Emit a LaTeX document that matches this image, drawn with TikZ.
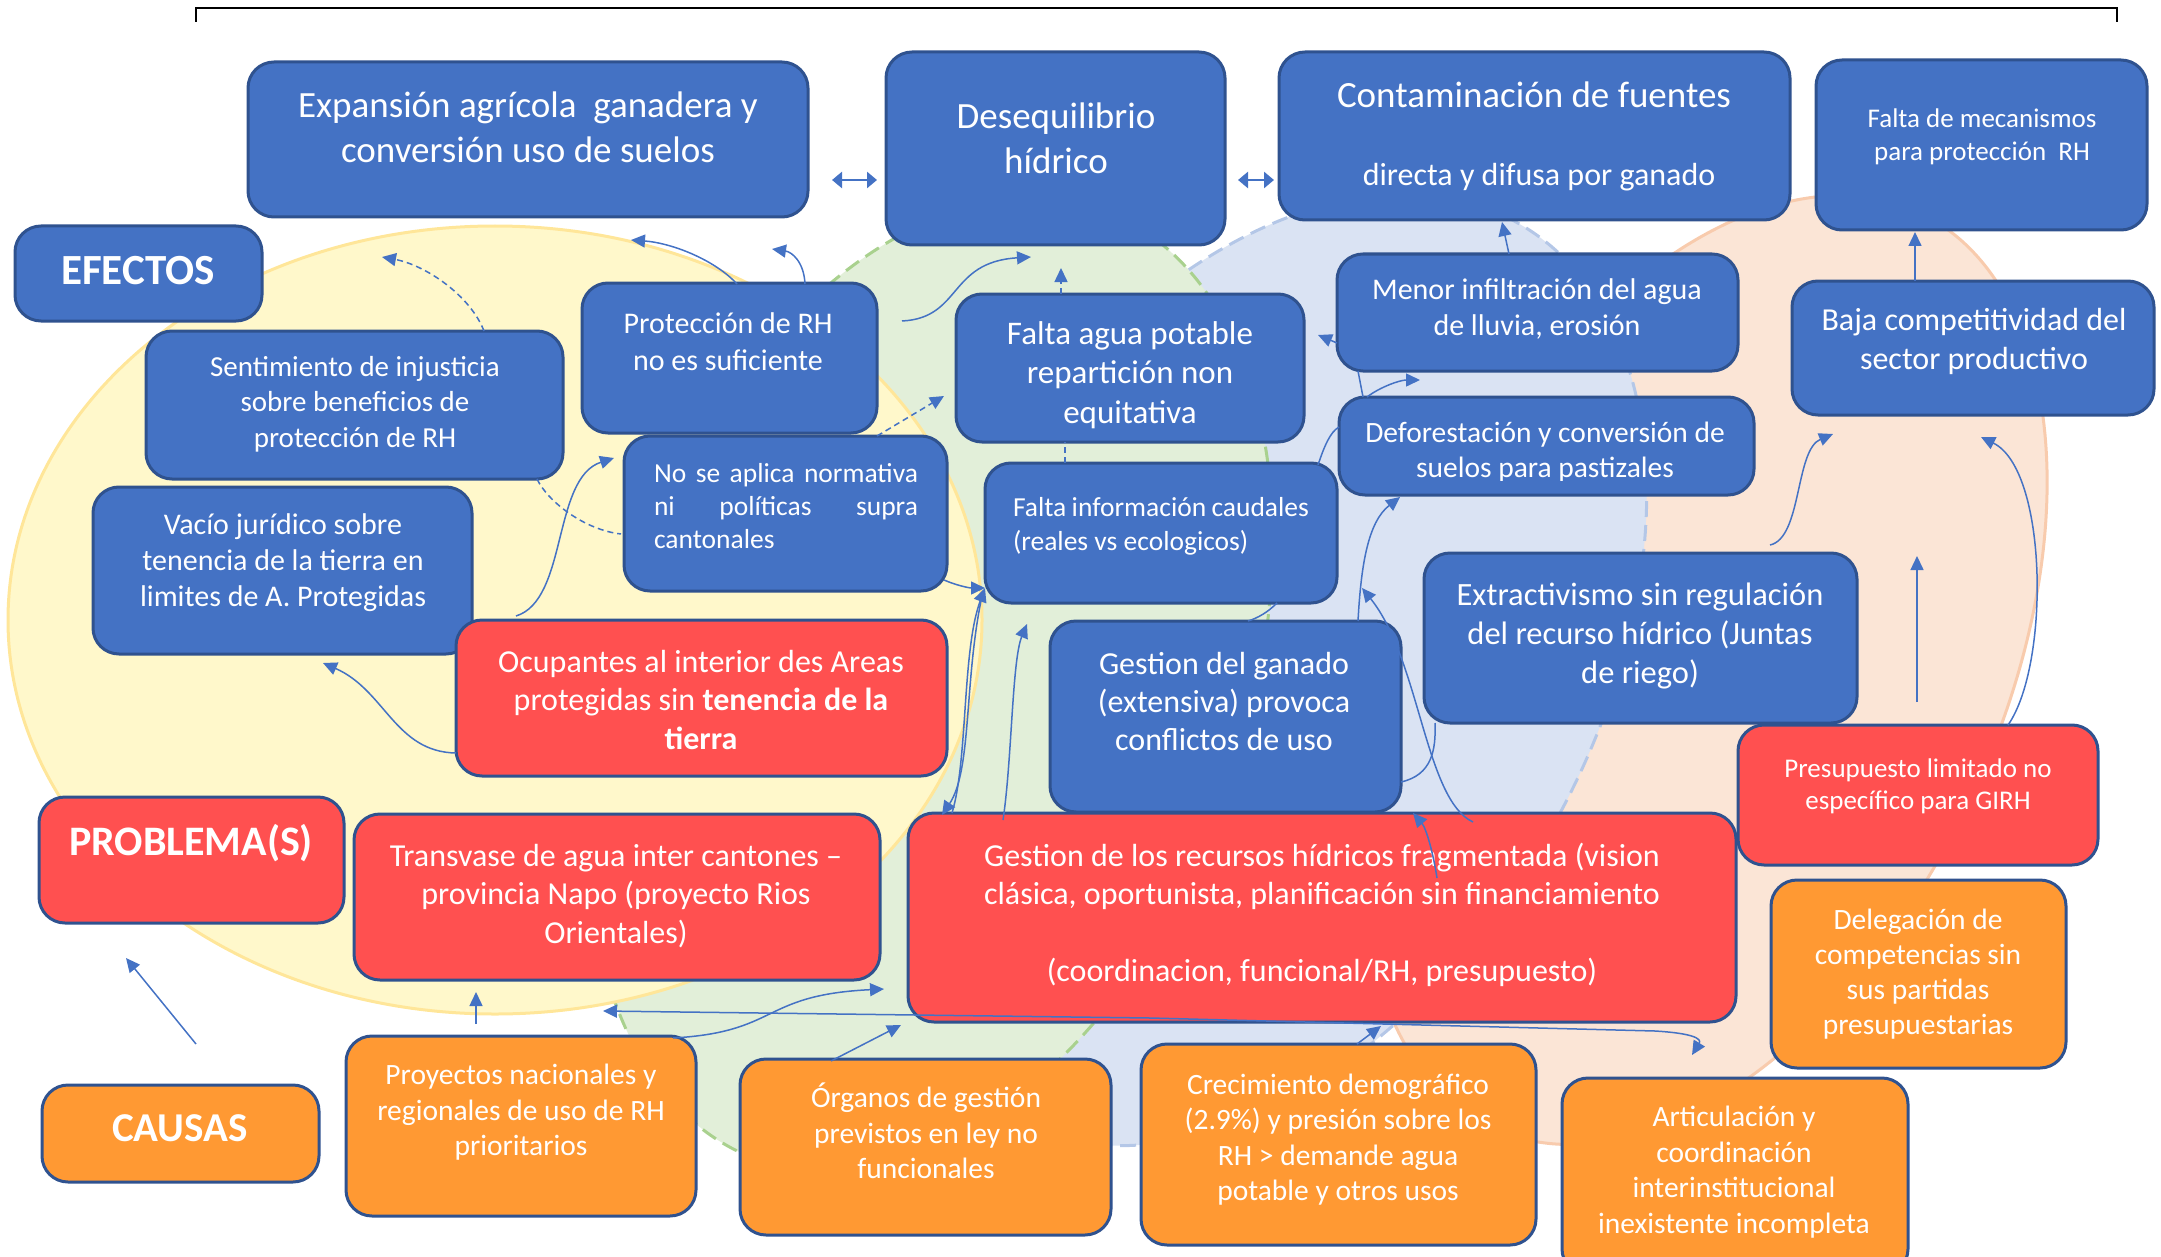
\documentclass[tikz,border=0pt]{standalone}
\usepackage{fontspec}
\setmainfont{Carlito}
\usetikzlibrary{arrows.meta,fit}
\definecolor{bxblue}{HTML}{4472C4}
\definecolor{bxborder}{HTML}{2F528F}
\definecolor{bxred}{HTML}{FF5050}
\definecolor{bxorange}{HTML}{FF9933}
\definecolor{bgyellow}{HTML}{FFF8CB}
\definecolor{bgyellowline}{HTML}{FFE699}
\definecolor{bggreen}{HTML}{E2EFD9}
\definecolor{bggreenline}{HTML}{A9D18E}
\definecolor{bgblue}{HTML}{DAE3F3}
\definecolor{bgblueline}{HTML}{B4C7E7}
\definecolor{bgorange}{HTML}{FBE5D6}
\definecolor{bgorangeline}{HTML}{F8CBAD}
\definecolor{arrowblue}{HTML}{4472C4}
\newcommand\fsz[2]{\fontsize{#1pt}{#2pt}\selectfont}
\begin{document}
\begin{tikzpicture}[x=0.5pt,y=-0.5pt,
  box/.style={draw=bxborder, line width=1.5pt, rounded corners=13pt, inner sep=0pt},
  bluebox/.style={box, fill=bxblue},
  redbox/.style={box, fill=bxred},
  orangebox/.style={box, fill=bxorange},
  txt/.style={text=white, align=center, inner sep=0pt},
  conn/.style={draw=arrowblue, line width=0.75pt},
  tip/.style={conn, -{Triangle[length=7pt,width=6.5pt]}},
  dtip/.style={tip, dash pattern=on 3pt off 2pt},
  dline/.style={conn, dash pattern=on 3pt off 2pt},
  dbl/.style={draw=arrowblue, line width=1.3pt, {Triangle[length=5pt,width=8pt]}-{Triangle[length=5pt,width=8pt]}},
  bgdash/.style={line width=1.5pt, dash pattern=on 8pt off 4pt}
]
\useasboundingbox (0,0) rectangle (2161,1257);
% top bracket
\draw[line width=1pt] (196,22) -- (196,8) -- (2117,8) -- (2117,22);

% background ellipses
\filldraw[fill=bgorange, draw=bgorangeline, line width=1.5pt, rotate around={-25:(1705,670)}] (1705,670) ellipse [x radius=147.5pt, y radius=252.5pt];
\filldraw[fill=bgblue, draw=bgblueline, bgdash, rotate around={-30:(1262,670)}] (1262,670) ellipse [x radius=165pt, y radius=257.5pt];
\filldraw[fill=bggreen, draw=bggreenline, bgdash, rotate around={-20:(930,685)}] (930,685) ellipse [x radius=157.5pt, y radius=252.5pt];
\filldraw[fill=bgyellow, draw=bgyellowline, line width=1.5pt] (495,620) ellipse [x radius=243.5pt, y radius=197pt];

% boxes
\node[bluebox, fit={(248,62)(808,217)}] (exp) {};
\node[bluebox, fit={(886,52)(1225,245)}] (des) {};
\node[bluebox, fit={(1279,52)(1790,220)}] (con) {};
\node[bluebox, fit={(1816,60)(2147,230)}] (mec) {};
\node[bluebox, fit={(15,226)(262,321)}] (efe) {};
\node[bluebox, fit={(146,331)(563,479)}] (sent) {};
\node[bluebox, fit={(582,283)(877,433)}] (prot) {};
\node[bluebox, fit={(624,436)(947,591)}] (noapl) {};
\node[bluebox, fit={(93,487)(472,654)}] (vacio) {};
\node[bluebox, fit={(956,294)(1304,442)}] (agua) {};
\node[bluebox, fit={(985,463)(1337,603)}] (info) {};
\node[bluebox, fit={(1337,254)(1738,371)}] (menor) {};
\node[bluebox, fit={(1339,397)(1754,495)}] (defor) {};
\node[bluebox, fit={(1792,281)(2154,415)}] (baja) {};
\node[bluebox, fit={(1424,553)(1857,723)}] (extr) {};
\node[bluebox, fit={(1050,621)(1401,812)}] (ganado) {};
\node[redbox, fit={(456,620)(947,776)}] (ocup) {};
\node[redbox, fit={(39,797)(344,923)}] (prob) {};
\node[redbox, fit={(354,814)(880,980)}] (transv) {};
\node[redbox, fit={(908,813)(1736,1022)}] (gest) {};
\node[redbox, fit={(1738,725)(2098,865)}] (presup) {};
\node[orangebox, fit={(1771,880)(2066,1068)}] (deleg) {};
\node[orangebox, fit={(42,1085)(319,1182)}] (causas) {};
\node[orangebox, fit={(346,1036)(696,1216)}] (proy) {};
\node[orangebox, fit={(740,1059)(1111,1235)}] (organ) {};
\node[orangebox, fit={(1141,1044)(1536,1245)}] (crec) {};
\node[orangebox, fit={(1562,1078)(1908,1275)}] (artic) {};

% texts
\node[txt, font=\fsz{18.5}{22.5}] (expT) at (528,127) {Expansión agrícola\ \ ganadera y\\conversión uso de suelos};
\node[txt, font=\fsz{18.5}{22.5}] (desT) at (1056,138) {Desequilibrio\\hídrico};
\node[txt, font=\fsz{18.5}{22.5}] (conT1) at (1534,95) {Contaminación de fuentes};
\node[txt, font=\fsz{16}{19}] (conT2) at (1539,177) {directa y difusa por ganado};
\node[txt, font=\fsz{13.5}{16.5}] (mecT) at (1982,136.5) {Falta de mecanismos\\para protección\ \ RH};
\node[txt, font=\fsz{21.5}{25}\bfseries] (efeT) at (138,271) {EFECTOS};
\node[txt, font=\fsz{14.5}{17.75}] (sentT) at (355,404) {Sentimiento de injusticia\\sobre beneficios de\\protección de RH};
\node[txt, font=\fsz{15}{18.25}] (protT) at (728,341.5) {Protección de RH\\no es suficiente};
\node[txt, font=\fsz{13.75}{16.5}, align=left] (noaplT) at (786,506) {\makebox[132pt][s]{No se aplica normativa}\\\makebox[132pt][s]{ni políticas supra}\\cantonales};
\node[txt, font=\fsz{15}{18}] (vacioT) at (283,563) {Vacío jurídico sobre\\tenencia de la tierra en\\limites de A. Protegidas};
\node[txt, font=\fsz{16.5}{19.75}] (aguaT) at (1130,375) {Falta agua potable\\repartición non\\equitativa};
\node[txt, font=\fsz{13.75}{17}, align=left] (infoT) at (1161,526) {\makebox[148pt][s]{Falta información caudales}\\(reales vs ecologicos)};
\node[txt, font=\fsz{15}{18}] (menorT) at (1537,309) {Menor infiltración del agua\\de lluvia, erosión};
\begin{scope}
\clip (1339,397) rectangle (1754,480);
\node[txt, font=\fsz{14.75}{17.75}] (deforT) at (1545,452) {Deforestación y conversión de\\suelos para pastizales};
\end{scope}
\node[txt, font=\fsz{16}{19.5}] (bajaT) at (1974,341) {Baja competitividad del\\sector productivo};
\node[txt, font=\fsz{16.25}{19.5}] (extrT) at (1640,636) {Extractivismo sin regulación\\del recurso hídrico (Juntas\\de riego)};
\node[txt, font=\fsz{16}{19.25}] (ganadoT) at (1224,701.5) {Gestion del ganado\\(extensiva) provoca\\conflictos de uso};
\node[txt, font=\fsz{16}{19.25}] (ocupT) at (701,699.5) {Ocupantes al interior des Areas\\protegidas sin \textbf{tenencia de la}\\\textbf{tierra}};
\node[txt, font=\fsz{21}{25}\bfseries] (probT) at (191,843) {PROBLEMA(S)};
\node[txt, font=\fsz{16}{19.25}] (transvT) at (616,896) {Transvase de agua inter cantones –\\provincia Napo (proyecto Rios\\Orientales)};
\node[txt, font=\fsz{16}{19.25}] (gestT) at (1322,915) {Gestion de los recursos hídricos fragmentada (vision\\clásica, oportunista, planificación sin financiamiento\\[19.25pt](coordinacion, funcional/RH, presupuesto)};
\node[txt, font=\fsz{13.5}{16}] (presupT) at (1918,786) {Presupuesto limitado no\\específico para GIRH};
\node[txt, font=\fsz{14.75}{17.5}] (delegT) at (1918,974) {Delegación de\\competencias sin\\sus partidas\\presupuestarias};
\node[txt, font=\fsz{20.5}{24}\bfseries] (causasT) at (180,1128) {CAUSAS};
\node[txt, font=\fsz{14.75}{17.75}] (proyT) at (521,1112.5) {Proyectos nacionales y\\regionales de uso de RH\\prioritarios};
\node[txt, font=\fsz{14.75}{17.75}] (organT) at (926,1131) {Órganos de gestión\\previstos en ley no\\funcionales};
\node[txt, font=\fsz{14.75}{17.75}] (crecT) at (1338,1139.5) {Crecimiento demográfico\\(2.9\%) y presión sobre los\\RH > demande agua\\potable y otros usos};
\node[txt, font=\fsz{14.75}{17.75}] (articT) at (1734,1172) {Articulación y\\coordinación\\interinstitucional\\inexistente incompleta};

% connector end points
\coordinate (d1a) at (832,180); \coordinate (d1b) at (877,180);
\coordinate (d2a) at (1238,180); \coordinate (d2b) at (1274,180);
\coordinate (p1) at (737,284); \coordinate (e1) at (631,240);
\coordinate (p2) at (805,284); \coordinate (e2) at (772,249);
\coordinate (s1) at (484,331); \coordinate (e3) at (382,257);
\coordinate (s2) at (537,479); \coordinate (n1) at (621,534);
\coordinate (n2) at (877,436); \coordinate (e4) at (944,396);
\coordinate (v1) at (516,616); \coordinate (n3) at (614,458);
\coordinate (p3) at (902,321); \coordinate (e5) at (1031,257);
\coordinate (a1) at (1061,294); \coordinate (e6) at (1061,268);
\coordinate (i1) at (1065,463); \coordinate (a2) at (1065,442);
\coordinate (n4) at (944,580); \coordinate (i2) at (985,588);
\coordinate (i3) at (982,596); \coordinate (g1) at (942,815);
\coordinate (g2) at (952,813); \coordinate (g3) at (1003,820); \coordinate (e7) at (1027,624);
\coordinate (i4) at (1277,603); \coordinate (k1) at (1248,621);
\coordinate (k2) at (1358,621); \coordinate (f1) at (1400,497);
\coordinate (g4) at (1473,822); \coordinate (e8) at (1362,588);
\coordinate (k3) at (1401,782); \coordinate (x1) at (1435,723);
\coordinate (g5) at (1437,878); \coordinate (e9) at (1413,813);
\coordinate (m1) at (1337,343); \coordinate (a3) at (1318,335);
\coordinate (m2) at (1358,371); \coordinate (f2) at (1363,397);
\coordinate (f3) at (1367,397); \coordinate (e10) at (1420,380);
\coordinate (i5) at (1318,465); \coordinate (f4) at (1339,427);
\coordinate (m3) at (1509,254); \coordinate (c1) at (1502,222);
\coordinate (b1) at (1915,281); \coordinate (mc1) at (1915,232);
\coordinate (x2) at (1770,545); \coordinate (e11) at (1833,434);
\coordinate (q1) at (1917,702); \coordinate (e12) at (1917,556);
\coordinate (r1) at (2008,725); \coordinate (e13) at (1981,437);
\coordinate (q2) at (196,1044); \coordinate (e14) at (126,958);
\coordinate (q3) at (476,1024); \coordinate (e15) at (476,992);
\coordinate (y1) at (673,1038); \coordinate (e16) at (884,989);
\coordinate (e17) at (603,1011); \coordinate (e18) at (1692,1055);
\coordinate (o1) at (831,1061); \coordinate (e19) at (901,1025);
\coordinate (cr1) at (1357,1044); \coordinate (e20) at (1381,1026);
\coordinate (oc1) at (456,753); \coordinate (e21) at (323,663);

% connectors
\draw[dbl] (d1a) -- (d1b);
\draw[dbl] (d2a) -- (d2b);
\draw[tip] (p1) .. controls (715,260) and (672,243) .. (e1);
\draw[tip] (p2) .. controls (804,262) and (792,252) .. (e2);
\draw[dtip] (s1) .. controls (470,295) and (425,265) .. (e3);
\draw[dline] (s2) .. controls (548,502) and (585,530) .. (n1);
\draw[dtip] (n2) -- (e4);
\draw[tip] (v1) .. controls (568,600) and (552,478) .. (n3);
\draw[tip] (p3) .. controls (962,318) and (948,262) .. (e5);
\draw[dtip] (a1) -- (e6);
\draw[dline] (i1) -- (a2);
\draw[tip] (n4) .. controls (958,586) and (970,588) .. (i2);
\draw[tip] (i3) .. controls (964,680) and (972,770) .. (g1);
\draw[tip] (g2) .. controls (968,760) and (962,650) .. (i2);
\draw[tip] (g3) .. controls (1012,760) and (1012,660) .. (e7);
\draw[conn] (i4) .. controls (1268,612) and (1258,618) .. (k1);
\draw[tip] (k2) .. controls (1361,565) and (1368,522) .. (f1);
\draw[tip] (g4) .. controls (1425,800) and (1420,660) .. (e8);
\draw[conn] (k3) .. controls (1432,775) and (1436,750) .. (x1);
\draw[tip] (g5) .. controls (1433,852) and (1426,828) .. (e9);
\draw[tip] (m1) -- (a3);
\draw[conn] (m2) -- (f2);
\draw[tip] (f3) .. controls (1380,387) and (1400,380) .. (e10);
\draw[conn] (i5) .. controls (1324,447) and (1330,432) .. (f4);
\draw[tip] (m3) -- (c1);
\draw[tip] (b1) -- (mc1);
\draw[tip] (x2) .. controls (1802,538) and (1795,450) .. (e11);
\draw[tip] (q1) -- (e12);
\draw[tip] (r1) .. controls (2050,665) and (2048,470) .. (e13);
\draw[tip] (q2) -- (e14);
\draw[tip] (q3) -- (e15);
\draw[tip] (y1) .. controls (780,1032) and (760,995) .. (e16);
\draw[conn, {Triangle[length=7pt,width=6.5pt]}-{Triangle[length=7pt,width=6.5pt]}] (e17) -- (1150,1018) -- (1655,1031) .. controls (1705,1034) and (1700,1042) .. (e18);
\draw[tip] (o1) -- (e19);
\draw[tip] (cr1) -- (e20);
\draw[tip] (oc1) .. controls (395,752) and (385,690) .. (e21);
\end{tikzpicture}
\end{document}
